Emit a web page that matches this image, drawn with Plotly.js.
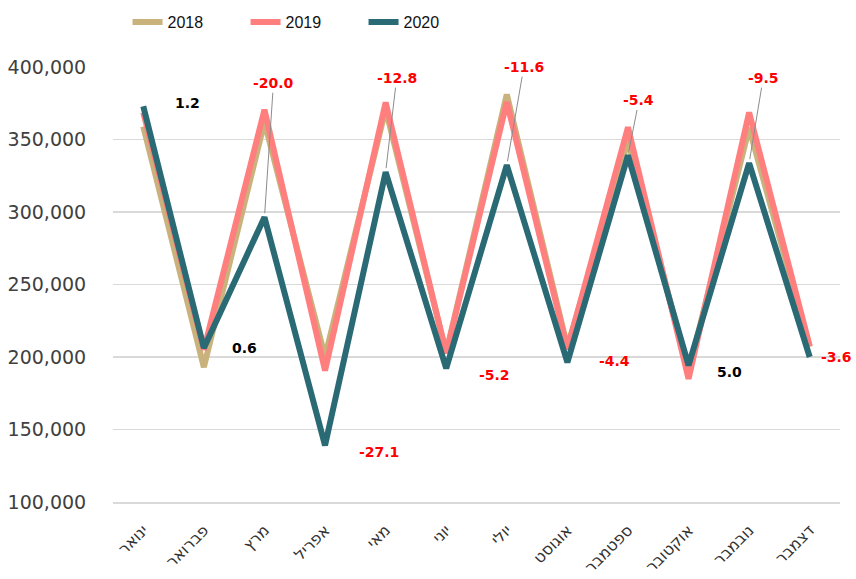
<!DOCTYPE html>
<html>
<head>
<meta charset="utf-8">
<script src="https://cdn.plot.ly/plotly-3.0.1.min.js"></script>
<style>html,body{margin:0;padding:0;background:#fff;}#chart{width:856px;height:579px;}</style>
</head>
<body>
<div id="chart"></div>
<script>
const months = ['ינואר','פברואר','מרץ','אפריל','מאי','יוני','יולי','אוגוסט','ספטמבר','אוקטובר','נובמבר','דצמבר'];
const values2018 = [359000,193000,362000,200000,371000,203000,381000,207000,349000,190000,358000,207000];
const values2019 = [368600,205000,370500,190700,375600,202600,375900,205300,358400,184900,368700,207500];
const values2020 = [373000,206200,296400,139000,327500,192100,332300,196300,339000,194200,333700,200000];
const changeLabels = [1.2,0.6,-20.0,-27.1,-12.8,-5.2,-11.6,-4.4,-5.4,5.0,-9.5,-3.6];
const yTicks = [100000,150000,200000,250000,300000,350000,400000];

// label placement (pixel offsets from the 2020 point) and whether a leader line is shown
const labelOffsets = [[44,-3],[41,0],[9,-134],[54,7],[11,-94],[48,7],[17,-98],[47,-1],[11,-55],[41,7],[14,-85],[27,0]];
const leader = [false,false,true,false,true,false,true,false,true,false,true,false];

const traces = [
  {name:'2018', x:months, y:values2018, type:'scatter', mode:'lines', line:{color:'#C9B27C', width:6}},
  {name:'2019', x:months, y:values2019, type:'scatter', mode:'lines', line:{color:'#FF7F7F', width:6}},
  {name:'2020', x:months, y:values2020, type:'scatter', mode:'lines', line:{color:'#2A6A75', width:6}}
];

const annotations = months.map((m,i)=>({
  x:m, y:values2020[i], xref:'x', yref:'y',
  text:'<b>' + changeLabels[i].toFixed(1) + '</b>',
  showarrow:true, arrowhead:0, arrowwidth:1, standoff:4,
  arrowcolor: leader[i] ? '#8C8C8C' : 'rgba(0,0,0,0)',
  ax:labelOffsets[i][0], ay:labelOffsets[i][1],
  font:{family:'DejaVu Sans', size:14, color: changeLabels[i] < 0 ? '#FF0000' : '#000000'}
}));

const layout = {
  width:856, height:579,
  margin:{l:113, r:16, t:67, b:77, autoexpand:false},
  paper_bgcolor:'#ffffff', plot_bgcolor:'#ffffff',
  showlegend:true,
  legend:{orientation:'h', x:0.02, xanchor:'left', y:1.103, yanchor:'middle',
          entrywidth:73, entrywidthmode:'pixels',
          font:{family:'Liberation Sans', size:16, color:'#111111'}},
  xaxis:{type:'category', range:[-0.5, 11.5], showgrid:false, zeroline:false,
         showline:true, linecolor:'#D9D9D9', linewidth:1.5,
         tickangle:-45, ticks:'outside', ticklen:11, tickcolor:'rgba(0,0,0,0)',
         tickfont:{family:'DejaVu Sans', size:16, color:'#333333'}},
  yaxis:{range:[100000,400000], tickvals:yTicks, tickformat:',', showgrid:true, gridcolor:'#D9D9D9', gridwidth:1.5,
         zeroline:false, showline:false, ticks:'outside', ticklen:22, tickcolor:'rgba(0,0,0,0)',
         tickfont:{family:'DejaVu Sans', size:19, color:'#404040'}},
  annotations:annotations
};

Plotly.newPlot('chart', traces, layout, {displayModeBar:false, staticPlot:true});
</script>
</body>
</html>
